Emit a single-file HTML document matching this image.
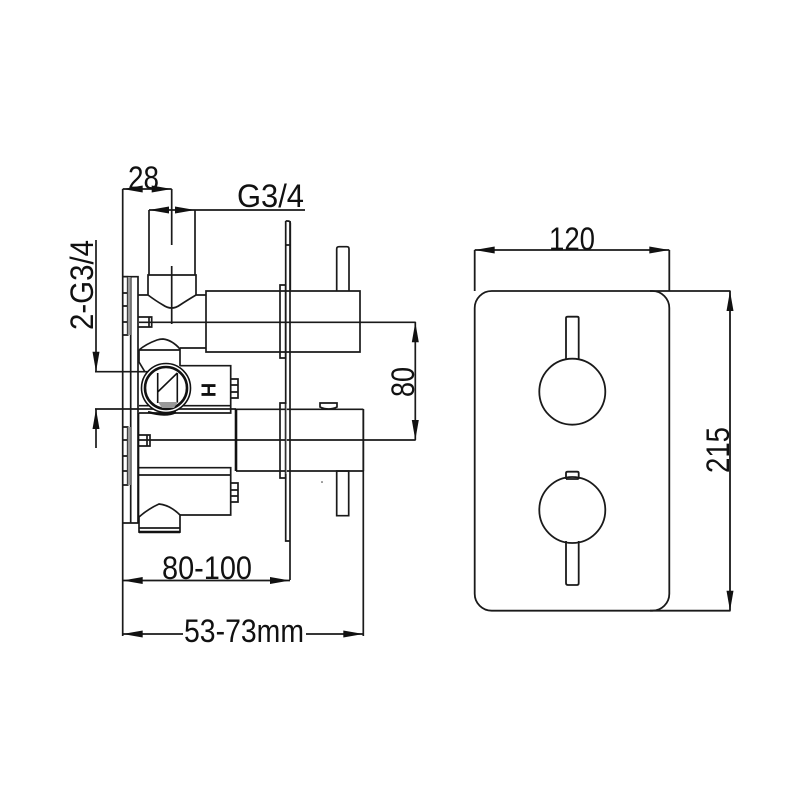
<!DOCTYPE html>
<html>
<head>
<meta charset="utf-8">
<style>
html,body{margin:0;padding:0;background:#fff;width:800px;height:800px;overflow:hidden}
svg{display:block}
text{font-family:"Liberation Sans",sans-serif;font-size:32px;fill:#111}
</style>
</head>
<body>
<svg width="800" height="800" viewBox="0 0 800 800" xmlns="http://www.w3.org/2000/svg">
<rect width="800" height="800" fill="#fff"/>
<defs>
<path id="a" d="M0 0L-20 -3.5L-20 3.5Z" fill="#111"/>
</defs>

<g fill="none" stroke="#1a1a1a" stroke-width="1.7">
<!-- dimension lines, left view -->
<path d="M122.7 189V636M122.7 189H171.7M171.7 189V245M171.7 266V324"/>
<path d="M149 210H305M149 210V275M195 210V275"/>
<path d="M96 240V372M96 409V448M95 371.7H152M95 409H236"/>
<path d="M139 322.3H415.7M139 440H415.7M415.3 322V440"/>
<path d="M290 221V580M363.3 409V636M122.7 580.5H290M122.7 634H183M306 634H363.3"/>

<!-- mounting plate left -->
<path d="M122.7 276.7H138V523H122.7"/>
<path d="M130.7 276.7V523"/>
<path d="M123 276.7H127.7V335H123M123 293H127.7M123 306H127.7M123 322H127.7"/>
<path d="M123 427H127.7V485H123M123 440H127.7M123 456H127.7M123 471H127.7"/>
<path d="M138 317H151.7V327H138M149 317V327"/>
<path d="M138 435H150V446H138M147 435V446"/>

<!-- elbow -->
<path d="M148 275H196V295Q186 301 180 305Q171.7 311 163 305Q156 301 148 295ZM138 295H148M196 295H206"/>
<!-- upper body -->
<path d="M206 291H360V352H206ZM206 291V352"/>
<path d="M280 285H285.7V358H280Z"/>
<path d="M285.7 221Q285.7 221 287.5 221Q290.3 221 290.3 223V290M285.7 221V541H290M285.7 245H290"/>
<path d="M336.7 290.7V249Q336.7 246.7 339 246.7H347Q349 246.7 349 249V290.7"/>

<!-- upper valve dome -->
<path d="M139 350Q146 344 157 340Q160 339 163 339Q172 340 180 349L180 366M139 350H180M180 348H206"/>
<path d="M139 350V362L145 372"/>
<path d="M180 365.7H230.7V413H139M139 405.7H230.7"/>
<path d="M230.7 379H238V398H230.7M230.7 385H238M230.7 392H238"/>

<!-- lower body -->
<path d="M236 409.3H363.3M363.3 409.3V471M236 471H363.3"/>
<path d="M280 403H285.7V478H280Z"/>
<path d="M320 403H337V407Q329 411 320 407Z"/>
<path d="M336.7 471H348.7V515.7H336.7Z"/>

<!-- lower valve -->
<path d="M139 467.7H230.7V515H180M139 475H230.7M230.7 483H238V502H230.7M230.7 490H238M230.7 496H238"/>
<path d="M139 517Q148 509 159 504Q170 505 180 515V532H139Z"/>
<path d="M139 528H180"/>
</g>

<g fill="none" stroke="#111">
<path d="M236 409V471" stroke-width="2.6"/>
<path d="M139 532H180" stroke-width="2.4"/>
<path d="M138.5 413V523" stroke-width="1.7"/>
<circle cx="166" cy="388" r="24.5" stroke-width="1.6" fill="#fff"/>
<circle cx="166" cy="388" r="21" stroke-width="2.6"/>
<path d="M157.7 373V403M177.3 373V403M157.7 392L177.3 373" stroke-width="1.6"/>
<path d="M148 412Q166 417 176 412" stroke-width="2.4"/>
</g>
<path d="M158 402H178L174 408H162Z" fill="#999"/>
<rect x="127.7" y="277" width="3" height="58" fill="#999"/>
<rect x="127.7" y="427" width="3" height="58" fill="#999"/>
<rect x="285.8" y="404" width="1" height="70" fill="#999"/>
<circle cx="322" cy="482" r="0.8" fill="#333"/>

<!-- H mark -->
<text x="207" y="390" text-anchor="middle" dominant-baseline="middle" transform="rotate(90 207 390)" style="font-size:20px;font-weight:bold">H</text>

<!-- front view -->
<g fill="none" stroke="#1a1a1a" stroke-width="1.8">
<rect x="474.7" y="291" width="194.6" height="319.7" rx="17" ry="17"/>
<path d="M474.7 250V291M669.3 250V291M474.7 250H669.3"/>
<path d="M650 291H730.5M650 610.7H730.5M730 291V610.7"/>
<circle cx="572.3" cy="391.7" r="33"/>
<circle cx="572.3" cy="510" r="33"/>
<path d="M566 360V318Q566 316.7 568 316.7H577Q578.7 316.7 578.7 318V360"/>
<path d="M566 479V473Q566 471.7 568 471.7H577Q578.7 471.7 578.7 473V479M566 479H578.7"/>
<path d="M566 541V583Q566 585 568 585H577Q578.7 585 578.7 583V541"/>
</g>

<!-- arrowheads -->
<use href="#a" transform="translate(122.7 189) rotate(180)"/>
<use href="#a" transform="translate(171.7 189)"/>
<use href="#a" transform="translate(149 210) rotate(180)"/>
<use href="#a" transform="translate(195 210)"/>
<use href="#a" transform="translate(96 371.7) rotate(90)"/>
<use href="#a" transform="translate(96 409) rotate(-90)"/>
<use href="#a" transform="translate(415.3 322.3) rotate(-90)"/>
<use href="#a" transform="translate(415.3 440) rotate(90)"/>
<use href="#a" transform="translate(122.7 580.5) rotate(180)"/>
<use href="#a" transform="translate(290 580.5)"/>
<use href="#a" transform="translate(122.7 634) rotate(180)"/>
<use href="#a" transform="translate(363.3 634)"/>
<use href="#a" transform="translate(474.7 250) rotate(180)"/>
<use href="#a" transform="translate(669.3 250)"/>
<use href="#a" transform="translate(730 291) rotate(-90)"/>
<use href="#a" transform="translate(730 610.7) rotate(90)"/>

<!-- labels -->
<text x="128" y="189" textLength="31" lengthAdjust="spacingAndGlyphs">28</text>
<text x="237" y="207" textLength="67" lengthAdjust="spacingAndGlyphs">G3/4</text>
<text x="549" y="250" textLength="46" lengthAdjust="spacingAndGlyphs">120</text>
<text x="162" y="579" textLength="90" lengthAdjust="spacingAndGlyphs">80-100</text>
<text x="184" y="642" textLength="120" lengthAdjust="spacingAndGlyphs">53-73mm</text>
<text transform="translate(93 330) rotate(-90)" textLength="90" lengthAdjust="spacingAndGlyphs">2-G3/4</text>
<text transform="translate(414 397) rotate(-90)" textLength="30" lengthAdjust="spacingAndGlyphs">80</text>
<text transform="translate(729 473) rotate(-90)" textLength="46" lengthAdjust="spacingAndGlyphs">215</text>
</svg>
</body>
</html>
